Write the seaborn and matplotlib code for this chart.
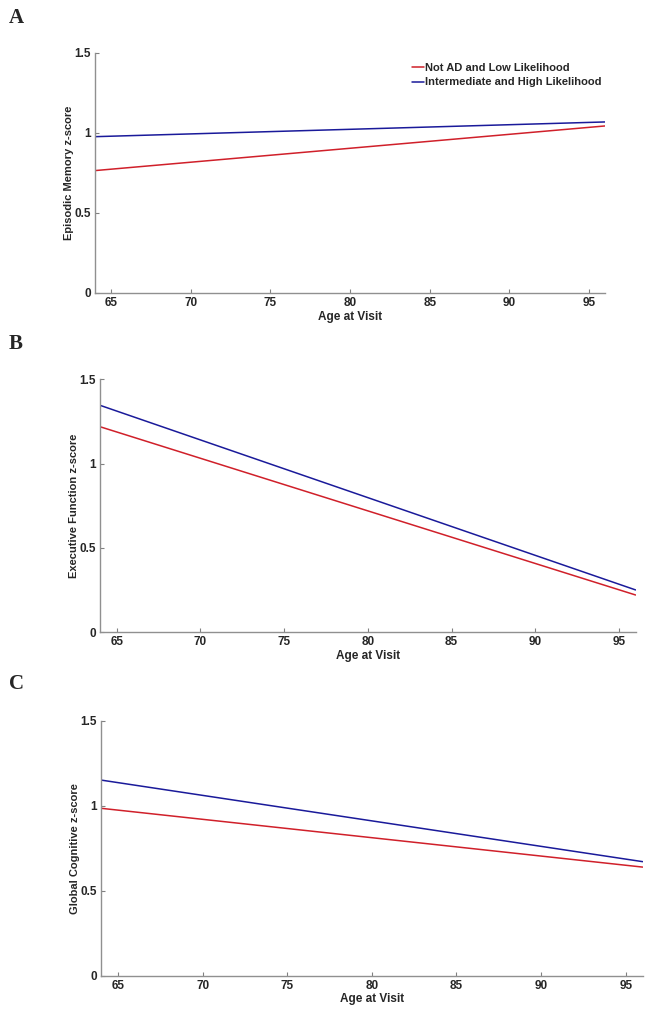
import matplotlib
matplotlib.use("Agg")
import matplotlib.pyplot as plt
import seaborn as sns
import pandas as pd

sns.set_theme(style="white")
plt.rcParams['font.family'] = ['Liberation Sans', 'DejaVu Sans']

# Data
ages = [64, 96]
groups = ["Not AD and Low Likelihood", "Intermediate and High Likelihood"]
episodic_low = [0.765, 1.044]
episodic_high = [0.977, 1.069]
executive_low = [1.219, 0.221]
executive_high = [1.346, 0.251]
global_low = [0.985, 0.639]
global_high = [1.151, 0.671]
panel_letters = ["A", "B", "C"]
ylabels = ["Episodic Memory z-score", "Executive Function z-score", "Global Cognitive z-score"]
xticks = [65, 70, 75, 80, 85, 90, 95]
yticks = [0, 0.5, 1, 1.5]
ytick_labels = ["0", "0.5", "1", "1.5"]

series = [(episodic_low, episodic_high), (executive_low, executive_high), (global_low, global_high)]
palette = {groups[0]: "#d0202a", groups[1]: "#1a1a9a"}

fig = plt.figure(figsize=(6.58, 10.17), dpi=100)
positions = [
    [0.1444, 0.7119, 0.9195 - 0.1444, 0.9479 - 0.7119],
    [0.152, 0.3783, 0.966 - 0.152, 0.627 - 0.3783],
    [0.1535, 0.0406, 0.9767 - 0.1535, 0.2913 - 0.0406],
]
letter_y = [0.982, 0.662, 0.327]

for i, (low, high) in enumerate(series):
    ax = fig.add_axes(positions[i])
    df = pd.DataFrame({
        "age": ages + ages,
        "z": list(low) + list(high),
        "group": [groups[0]] * len(ages) + [groups[1]] * len(ages),
    })
    sns.lineplot(data=df, x="age", y="z", hue="group", palette=palette,
                 hue_order=[groups[0], groups[1]], ax=ax, linewidth=1.1,
                 legend=(i == 0))
    ax.set_xlim(64, 96)
    ax.set_ylim(0, 1.5)
    ax.set_xticks(xticks)
    ax.set_xticklabels([str(t) for t in xticks], fontsize=8.5, fontweight="bold")
    ax.set_yticks(yticks)
    ax.set_yticklabels(ytick_labels, fontsize=8.5, fontweight="bold")
    ax.tick_params(direction="in", length=3, width=0.8, color="#808080", pad=3,
                   bottom=True, left=True)
    for s in ["top", "right"]:
        ax.spines[s].set_visible(False)
    for s in ["left", "bottom"]:
        ax.spines[s].set_color("#909090")
        ax.spines[s].set_linewidth(1.0)
    ax.set_xlabel("Age at Visit", fontsize=8.5, fontweight="bold", labelpad=1)
    ax.set_ylabel(ylabels[i], fontsize=8, fontweight="bold", labelpad=0.5)
    if i == 0:
        leg = ax.legend(loc="upper right", bbox_to_anchor=(1.012, 1.0), frameon=False,
                        fontsize=8, handlelength=1.0, handletextpad=0.1,
                        labelspacing=0.4)
        for t in leg.get_texts():
            t.set_fontweight("bold")
    fig.text(0.013, letter_y[i], panel_letters[i], fontsize=15, fontweight="bold",
             family=["Liberation Serif", "DejaVu Serif"], va="center", ha="left")

fig.savefig("out.png", dpi=100, facecolor="white")
